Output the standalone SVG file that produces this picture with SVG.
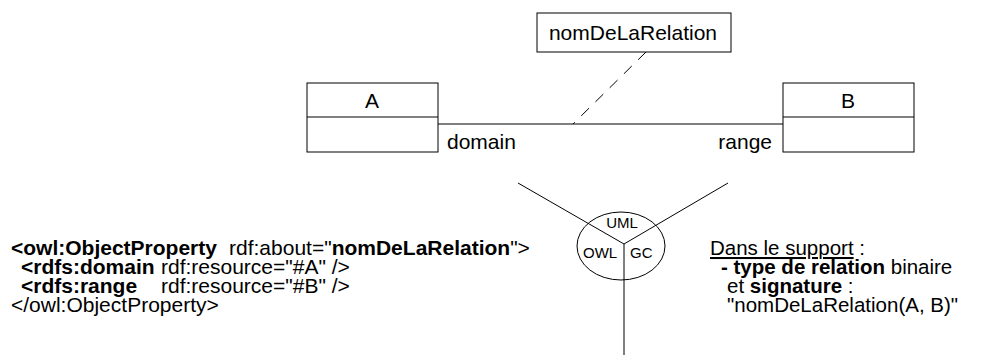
<svg xmlns="http://www.w3.org/2000/svg" width="981" height="360" viewBox="0 0 981 360">
<style>
text{font-family:"Liberation Sans",Arial,sans-serif;fill:#000}
.box{fill:#fff;stroke:#000;stroke-width:1}
.ln{stroke:#000;stroke-width:1;fill:none}
.lbl{font-size:21px}
.code{font-size:21px}
.rt{font-size:20.5px}
.sm{font-size:15px}
.b{font-weight:bold}
</style>
<rect width="981" height="360" fill="#fff"/>
<g id="connectors">
<line class="ln" x1="438" y1="124" x2="783" y2="124"/>
<line class="ln" x1="646" y1="52" x2="573" y2="124" stroke-dasharray="11,9"/>
<line class="ln" x1="518" y1="183" x2="624" y2="244"/>
<line class="ln" x1="728" y1="183" x2="624" y2="244"/>
<line class="ln" x1="624" y1="244" x2="624" y2="355"/>
</g>
<g id="relation">
<rect class="box" x="537" y="13" width="194" height="39"/>
<text class="lbl" x="633" y="40" text-anchor="middle">nomDeLaRelation</text>
</g>
<g id="classA">
<rect class="box" x="307" y="83" width="131" height="69"/>
<line class="ln" x1="307" y1="117" x2="438" y2="117"/>
<text class="lbl" x="372" y="108" text-anchor="middle">A</text>
</g>
<g id="classB">
<rect class="box" x="783" y="83" width="131" height="69"/>
<line class="ln" x1="783" y1="117" x2="914" y2="117"/>
<text class="lbl" x="848" y="108" text-anchor="middle">B</text>
</g>
<text class="lbl" x="447" y="149">domain</text>
<text class="lbl" x="772" y="149" text-anchor="end">range</text>
<g id="ellipse">
<ellipse cx="621" cy="246" rx="44" ry="34" fill="none" stroke="#000" stroke-width="1"/>
<text class="sm" x="622" y="228" text-anchor="middle">UML</text>
<text class="sm" x="583" y="258">OWL</text>
<text class="sm" x="630" y="258">GC</text>
</g>
<g id="owl-code">
<text class="code" x="11" y="255"><tspan class="b">&lt;owl:ObjectProperty</tspan><tspan x="229">rdf:about="</tspan><tspan class="b">nomDeLaRelation</tspan>"&gt;</text>
<text class="code" x="21" y="274"><tspan class="b">&lt;rdfs:domain</tspan><tspan x="161">rdf:resource="#A" /&gt;</tspan></text>
<text class="code" x="21" y="293"><tspan class="b">&lt;rdfs:range</tspan><tspan x="161">rdf:resource="#B" /&gt;</tspan></text>
<text class="code" x="11" y="312">&lt;/owl:ObjectProperty&gt;</text>
</g>
<g id="gc-text">
<text class="rt" x="710" y="255"><tspan text-decoration="underline">Dans le support</tspan> :</text>
<text class="rt" x="721" y="274"><tspan class="b">- type de relation</tspan> binaire</text>
<text class="rt" x="727" y="293">et <tspan class="b">signature</tspan> :</text>
<text class="rt" x="727" y="312">"nomDeLaRelation(A, B)"</text>
</g>
</svg>
